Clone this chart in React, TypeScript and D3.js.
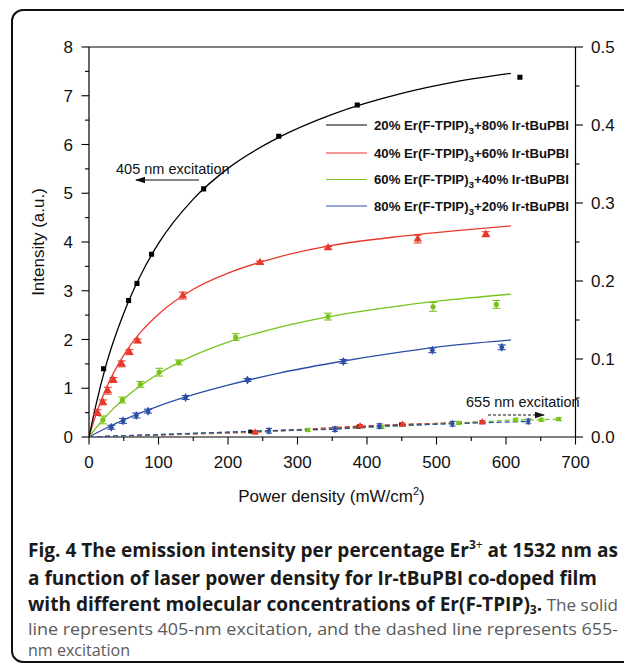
import React from "react";
import * as d3 from "d3";

// ---- axis ticks ----
const xTicks = [0, 100, 200, 300, 400, 500, 600, 700];
const xMinorTicks = [50, 150, 250, 350, 450, 550, 650];
const yLeftTicks = [0, 1, 2, 3, 4, 5, 6, 7, 8];
const yLeftMinor = [0.5, 1.5, 2.5, 3.5, 4.5, 5.5, 6.5, 7.5];
const yRightTicks = [0, 0.1, 0.2, 0.3, 0.4, 0.5];
const yRightMinor = [0.05, 0.15, 0.25, 0.35, 0.45];

// ---- 405 nm data (left axis) ----
const blackX = [21, 57, 69, 90, 165, 273, 386, 620];
const blackY = [1.4, 2.8, 3.15, 3.75, 5.09, 6.17, 6.81, 7.38];

const redX = [12, 20, 27, 35, 47, 58, 70, 135, 246, 344, 473, 571];
const redY = [0.5, 0.71, 0.95, 1.17, 1.5, 1.74, 1.97, 2.9, 3.58, 3.88, 4.06, 4.16];
const redErr = [0.06, 0.05, 0.07, 0.05, 0.06, 0.05, 0.04, 0.07, 0.03, 0.03, 0.08, 0.05];

const greenX = [20, 48, 74, 101, 129, 211, 344, 495, 586];
const greenY = [0.35, 0.76, 1.08, 1.33, 1.53, 2.05, 2.47, 2.67, 2.72];
const greenErr = [0.08, 0.06, 0.06, 0.08, 0.05, 0.07, 0.07, 0.09, 0.08];

const blueX = [32, 49, 68, 85, 139, 228, 366, 494, 594];
const blueY = [0.2, 0.33, 0.44, 0.53, 0.81, 1.17, 1.55, 1.78, 1.84];
const blueErr = [0.04, 0.05, 0.05, 0.04, 0.04, 0.03, 0.04, 0.05, 0.05];

// ---- fitted curves ----
const fitX = [0, 10, 25, 50, 75, 100, 150, 200, 275, 350, 450, 525, 607];
const blackFit = [0, 0.66, 1.5, 2.54, 3.34, 3.97, 4.88, 5.51, 6.16, 6.62, 7.05, 7.28, 7.46];
const redFit = [0, 0.46, 1.01, 1.68, 2.16, 2.52, 3.03, 3.36, 3.7, 3.93, 4.12, 4.23, 4.33];
const greenFit = [0, 0.185, 0.433, 0.779, 1.062, 1.298, 1.669, 1.948, 2.255, 2.479, 2.696, 2.822, 2.93];
const blueFit = [0, 0.077, 0.185, 0.351, 0.5, 0.634, 0.867, 1.063, 1.316, 1.518, 1.745, 1.884, 1.99];

// ---- 655 nm data (right axis) ----
const black655X = [232, 388, 449, 565];
const black655Y = [0.007, 0.013, 0.016, 0.019];
const red655X = [239, 390, 451, 566];
const red655Y = [0.006, 0.014, 0.016, 0.019];
const blue655X = [259, 354, 418, 523, 632];
const blue655Y = [0.008, 0.01, 0.014, 0.017, 0.02];
const green655X = [315, 421, 532, 614, 651, 676];
const green655Y = [0.009, 0.013, 0.018, 0.022, 0.022, 0.023];

const legendLabels = ["20%", "40%", "60%", "80%"];
const legendRest = ["80%", "60%", "40%", "20%"];

const COLORS = { black: "#000000", red: "#e8382b", green: "#7ac31e", blue: "#2c4ea6" };

const FONT = "'Liberation Sans', Arial, Helvetica, sans-serif";
const CAP = "'Open Sans', 'Noto Sans', sans-serif";

export default function App() {
  const x = d3.scaleLinear().domain([0, 700]).range([89, 575.5]);
  const yL = d3.scaleLinear().domain([0, 8]).range([437, 47]);
  const yR = d3.scaleLinear().domain([0, 0.5]).range([437, 47]);

  const fitLine = (ys: number[]) =>
    d3
      .line<number>()
      .x((_, i) => x(fitX[i]))
      .y((d) => yL(d))
      .curve(d3.curveMonotoneX)(ys) as string;

  const dashLine = (xs: number[], ys: number[]) =>
    d3
      .line<number>()
      .x((_, i) => x([0, ...xs][i]))
      .y((d) => yR(d))([0, ...ys]) as string;

  const sym = (type: d3.SymbolType, size: number) => d3.symbol().type(type).size(size)() as string;

  const errBars = (xs: number[], ys: number[], es: number[], color: string, ys2 = yL, cap = 4) =>
    xs.map((xv, i) => {
      const cx = x(xv);
      const y1 = ys2(ys[i] + es[i]);
      const y2 = ys2(ys[i] - es[i]);
      return (
        <g key={"e" + i} stroke={color} strokeWidth={1.1}>
          <line x1={cx} x2={cx} y1={y1} y2={y2} />
          <line x1={cx - cap} x2={cx + cap} y1={y1} y2={y1} />
          <line x1={cx - cap} x2={cx + cap} y1={y2} y2={y2} />
        </g>
      );
    });

  const markers = (xs: number[], ys: number[], path: string, color: string, sc = yL) =>
    xs.map((xv, i) => (
      <path key={"m" + i} d={path} transform={`translate(${x(xv)},${sc(ys[i])})`} fill={color} />
    ));

  const sq = sym(d3.symbolSquare, 26);
  const tri = sym(d3.symbolTriangle, 30);
  const cir = sym(d3.symbolCircle, 22);
  const dia = sym(d3.symbolDiamond, 24);
  const sqS = sym(d3.symbolSquare, 16);
  const triS = sym(d3.symbolTriangle, 22);
  const cirS = sym(d3.symbolCircle, 16);
  const diaS = sym(d3.symbolDiamond, 18);

  const legendColors = [COLORS.black, COLORS.red, COLORS.green, COLORS.blue];
  const legendY = [125, 153, 179.5, 206];

  return (
    <svg
      width={624}
      height={665}
      style={{ position: "absolute", left: 0, top: 0, background: "#fff" }}
      fontFamily={FONT}
    >
      <defs>
        <marker id="ah" markerWidth="10" markerHeight="8" refX="9" refY="4" orient="auto" markerUnits="userSpaceOnUse">
          <path d="M0,0.8 L10,4 L0,7.2 Z" fill="#111" />
        </marker>
        <clipPath id="plotClip">
          <rect x={89} y={47} width={486.5} height={390} />
        </clipPath>
      </defs>

      {/* outer frame */}
      <rect x={12} y={10} width={640} height={652} rx={11} fill="none" stroke="#111" strokeWidth={2} />

      {/* plot frame */}
      <line x1={89} x2={575.5} y1={47} y2={47} stroke="#000" strokeWidth={1.2} />
      <line x1={89} x2={575.5} y1={437} y2={437} stroke="#000" strokeWidth={1.2} />
      <line x1={89} x2={89} y1={47} y2={437} stroke="#000" strokeWidth={1.2} />
      <line x1={575.5} x2={575.5} y1={47} y2={437} stroke="#000" strokeWidth={1.2} />

      {/* x ticks */}
      {xTicks.map((t) => (
        <g key={"xt" + t}>
          <line x1={x(t)} x2={x(t)} y1={437} y2={444.5} stroke="#000" strokeWidth={1.1} />
          <text x={x(t)} y={468} textAnchor="middle" fontSize={17} fill="#111">
            {t}
          </text>
        </g>
      ))}
      {xMinorTicks.map((t) => (
        <line key={"xm" + t} x1={x(t)} x2={x(t)} y1={437} y2={441} stroke="#000" strokeWidth={1.1} />
      ))}

      {/* left y ticks */}
      {yLeftTicks.map((t) => (
        <g key={"yl" + t}>
          <line x1={81.5} x2={89} y1={yL(t)} y2={yL(t)} stroke="#000" strokeWidth={1.1} />
          <text x={73} y={yL(t) + 6} textAnchor="end" fontSize={17} fill="#111">
            {t}
          </text>
        </g>
      ))}
      {yLeftMinor.map((t) => (
        <line key={"ylm" + t} x1={85} x2={89} y1={yL(t)} y2={yL(t)} stroke="#000" strokeWidth={1.1} />
      ))}

      {/* right y ticks */}
      {yRightTicks.map((t) => (
        <g key={"yr" + t}>
          <line x1={575.5} x2={583} y1={yR(t)} y2={yR(t)} stroke="#000" strokeWidth={1.1} />
          <text x={591} y={yR(t) + 6} textAnchor="start" fontSize={17} fill="#111">
            {t.toFixed(1)}
          </text>
        </g>
      ))}
      {yRightMinor.map((t) => (
        <line key={"yrm" + t} x1={575.5} x2={579.5} y1={yR(t)} y2={yR(t)} stroke="#000" strokeWidth={1.1} />
      ))}

      {/* axis titles */}
      <text x={331.5} y={502} textAnchor="middle" fontSize={17} fill="#111">
        Power density (mW/cm<tspan dy={-7} fontSize={11}>2</tspan>
        <tspan dy={7}>)</tspan>
      </text>
      <text transform="translate(44,242) rotate(-90)" textAnchor="middle" fontSize={17} fill="#111">
        Intensity (a.u.)
      </text>

      <g clipPath="url(#plotClip)">
        {/* 655 nm dashed lines */}
        <path d={dashLine(black655X, black655Y)} fill="none" stroke="#555" strokeWidth={1.3} strokeDasharray="5,3" />
        <path d={dashLine(red655X, red655Y)} fill="none" stroke={COLORS.red} strokeWidth={1.3} strokeDasharray="5,3" />
        <path d={dashLine(green655X, green655Y)} fill="none" stroke={COLORS.green} strokeWidth={1.3} strokeDasharray="5,3" />
        <path d={dashLine(blue655X, blue655Y)} fill="none" stroke={COLORS.blue} strokeWidth={1.3} strokeDasharray="5,3" />
        {markers(black655X, black655Y, sqS, "#111", yR)}
        {errBars(red655X, red655Y, red655X.map(() => 0.002), COLORS.red, yR, 3)}
        {markers(red655X, red655Y, triS, COLORS.red, yR)}
        {errBars(green655X, green655Y, green655X.map(() => 0.002), COLORS.green, yR, 3)}
        {markers(green655X, green655Y, cirS, COLORS.green, yR)}
        {errBars(blue655X, blue655Y, blue655X.map(() => 0.003), COLORS.blue, yR, 3)}
        {markers(blue655X, blue655Y, diaS, COLORS.blue, yR)}

        {/* 405 nm fits */}
        <path d={fitLine(blueFit)} fill="none" stroke={COLORS.blue} strokeWidth={1.3} />
        <path d={fitLine(greenFit)} fill="none" stroke={COLORS.green} strokeWidth={1.3} />
        <path d={fitLine(redFit)} fill="none" stroke={COLORS.red} strokeWidth={1.3} />
        <path d={fitLine(blackFit)} fill="none" stroke={COLORS.black} strokeWidth={1.3} />

        {errBars(blueX, blueY, blueErr, COLORS.blue)}
        {markers(blueX, blueY, dia, COLORS.blue)}
        {errBars(greenX, greenY, greenErr, COLORS.green)}
        {markers(greenX, greenY, cir, COLORS.green)}
        {errBars(redX, redY, redErr, COLORS.red)}
        {markers(redX, redY, tri, COLORS.red)}
        {markers(blackX, blackY, sq, COLORS.black)}
      </g>

      {/* annotations */}
      <text x={116} y={174} fontSize={14.5} fill="#111">
        405 nm excitation
      </text>
      <line x1={199} x2={136} y1={180} y2={180} stroke="#111" strokeWidth={1.2} markerEnd="url(#ah)" />
      <text x={466} y={406.5} fontSize={14.5} fill="#111">
        655 nm excitation
      </text>
      <line x1={488} x2={544} y1={415} y2={415} stroke="#111" strokeWidth={1.2} strokeDasharray="3,2" markerEnd="url(#ah)" />

      {/* legend */}
      {legendLabels.map((lab, i) => (
        <g key={"lg" + i}>
          <line x1={326} x2={367} y1={legendY[i]} y2={legendY[i]} stroke={legendColors[i]} strokeWidth={1.2} />
          <text x={374} y={legendY[i] + 4.5} fontSize={12} fontWeight="bold" fill="#111" textLength={195} lengthAdjust="spacingAndGlyphs">
            {lab} Er(F-TPIP)<tspan dy={4} fontSize={9}>3</tspan>
            <tspan dy={-4}>+{legendRest[i]} Ir-tBuPBI</tspan>
          </text>
        </g>
      ))}

      {/* caption */}
      <g fontFamily={CAP}>
        <text x={28} y={557} fontSize={19} fontWeight="bold" fill="#1a1a1a" textLength={590} lengthAdjust="spacingAndGlyphs">
          Fig. 4 The emission intensity per percentage Er<tspan dy={-8} fontSize={12}>3</tspan>
          <tspan fontSize={12} fontWeight="normal">+</tspan>
          <tspan dy={8}> at 1532 nm as</tspan>
        </text>
        <text x={28} y={585} fontSize={19} fontWeight="bold" fill="#1a1a1a" textLength={569} lengthAdjust="spacingAndGlyphs">
          a function of laser power density for Ir-tBuPBI co-doped film
        </text>
        <text x={28} y={611} fontSize={19} fill="#1a1a1a" textLength={590} lengthAdjust="spacingAndGlyphs">
          <tspan fontWeight="bold">with different molecular concentrations of Er(F-TPIP)</tspan>
          <tspan fontWeight="bold" dy={3} fontSize={12}>3</tspan>
          <tspan fontWeight="bold" dy={-3}>.</tspan>
          <tspan fill="#5a5a5a" fontSize={17}> The solid</tspan>
        </text>
        <text x={28} y={635} fontSize={17} fill="#5a5a5a" textLength={590} lengthAdjust="spacingAndGlyphs">
          line represents 405-nm excitation, and the dashed line represents 655-
        </text>
        <text x={28} y={656} fontSize={17} fill="#5a5a5a" textLength={102} lengthAdjust="spacingAndGlyphs">
          nm excitation
        </text>
      </g>
    </svg>
  );
}
